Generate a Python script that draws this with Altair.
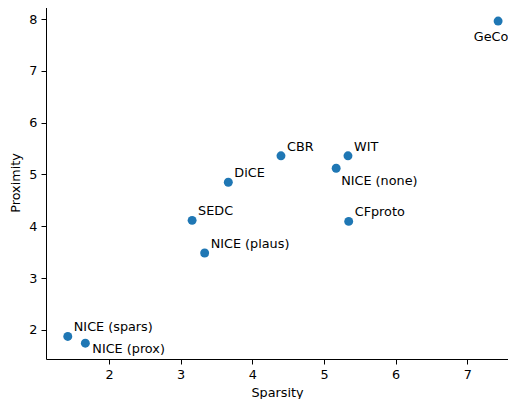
import altair as alt
import pandas as pd

names = ["GeCo", "CBR", "WIT", "NICE (none)", "DiCE", "SEDC", "CFproto",
         "NICE (plaus)", "NICE (spars)", "NICE (prox)"]
sparsity = [7.43, 4.40, 5.335, 5.17, 3.665, 3.16, 5.345, 3.335, 1.425, 1.67]
proximity = [7.96, 5.36, 5.36, 5.12, 4.85, 4.115, 4.095, 3.485, 1.875, 1.745]

x_ticks = [2, 3, 4, 5, 6, 7]
y_ticks = [2, 3, 4, 5, 6, 7, 8]
x_domain = [1.121, 7.568]
y_domain = [1.440, 8.251]

df = pd.DataFrame({"name": names, "Sparsity": sparsity, "Proximity": proximity})

FONT = "DejaVu Sans"
FS = 12.8

x_enc = alt.X("Sparsity:Q", scale=alt.Scale(domain=x_domain, nice=False, zero=False),
              axis=alt.Axis(values=x_ticks, title="Sparsity", format="d"))
y_enc = alt.Y("Proximity:Q", scale=alt.Scale(domain=y_domain, nice=False, zero=False),
              axis=alt.Axis(values=y_ticks, title="Proximity", format="d"))

base = alt.Chart(df).encode(x=x_enc, y=y_enc)

points = base.mark_circle(size=80, color="#1f77b4", opacity=1)


def labels(group, **kw):
    return base.transform_filter(
        alt.FieldOneOfPredicate(field="name", oneOf=group)
    ).mark_text(font=FONT, fontSize=FS, color="black", **kw).encode(text="name:N")


upright = ["CBR", "WIT", "DiCE", "SEDC", "CFproto", "NICE (plaus)", "NICE (spars)"]

chart = alt.layer(
    points,
    labels(upright, align="left", baseline="alphabetic", dx=6, dy=-5),
    labels(["NICE (none)"], align="left", baseline="alphabetic", dx=5, dy=16.5),
    labels(["NICE (prox)"], align="left", baseline="alphabetic", dx=7, dy=10),
    labels(["GeCo"], align="center", baseline="alphabetic", dx=-7, dy=19.5),
).properties(
    width=462, height=353,
    autosize=alt.AutoSizeParams(type="none"),
    padding={"left": 38, "top": -2, "right": 0, "bottom": 40},
).configure_view(
    stroke="black", strokeWidth=1
).configure_axis(
    grid=False, domain=False,
    tickColor="black", tickSize=5, tickWidth=1,
    labelFont=FONT, labelFontSize=FS, labelColor="black", labelPadding=4,
    titleFont=FONT, titleFontSize=FS, titleColor="black", titleFontWeight="normal",
).configure_axisX(titlePadding=6).configure_axisY(titlePadding=6)

chart.save("out.html", embed_options={"renderer": "svg", "actions": False})
